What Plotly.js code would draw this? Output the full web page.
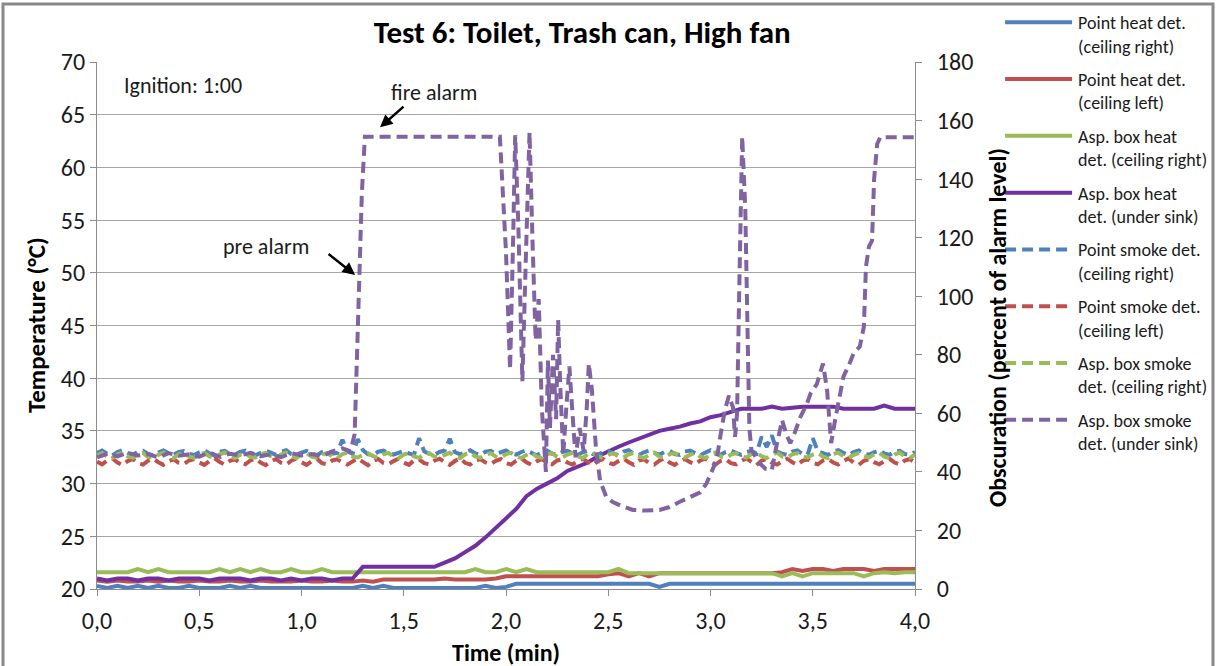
<!DOCTYPE html>
<html>
<head>
<meta charset="utf-8">
<script src="https://cdn.plot.ly/plotly-3.0.1.min.js"></script>
<style>
html,body{margin:0;padding:0;background:#fff;}
#chart{width:1218px;height:666px;}
</style>
</head>
<body>
<div id="chart"></div>
<script>
// ---- time axes (min) ----
const timeFine = [
0,0.025,0.05,0.075,0.1,0.125,0.15,0.175,0.2,0.225,0.25,0.275,0.3,0.325,0.35,0.375,0.4,0.425,0.45,0.475,
0.5,0.525,0.55,0.575,0.6,0.625,0.65,0.675,0.7,0.725,0.75,0.775,0.8,0.825,0.85,0.875,0.9,0.925,0.95,0.975,
1,1.025,1.05,1.075,1.1,1.125,1.15,1.175,1.2,1.225,1.25,1.275,1.3,1.325,1.35,1.375,1.4,1.425,1.45,1.475,
1.5,1.525,1.55,1.575,1.6,1.625,1.65,1.675,1.7,1.725,1.75,1.775,1.8,1.825,1.85,1.875,1.9,1.925,1.95,1.975,
2,2.025,2.05,2.075,2.1,2.125,2.15,2.175,2.2,2.225,2.25,2.275,2.3,2.325,2.35,2.375,2.4,2.425,2.45,2.475,
2.5,2.525,2.55,2.575,2.6,2.625,2.65,2.675,2.7,2.725,2.75,2.775,2.8,2.825,2.85,2.875,2.9,2.925,2.95,2.975,
3,3.025,3.05,3.075,3.1,3.125,3.15,3.175,3.2,3.225,3.25,3.275,3.3,3.325,3.35,3.375,3.4,3.425,3.45,3.475,
3.5,3.525,3.55,3.575,3.6,3.625,3.65,3.675,3.7,3.725,3.75,3.775,3.8,3.825,3.85,3.875,3.9,3.925,3.95,3.975,
4];
const timeCoarse = [
0,0.05,0.1,0.15,0.2,0.25,0.3,0.35,0.4,0.45,
0.5,0.55,0.6,0.65,0.7,0.75,0.8,0.85,0.9,0.95,
1,1.05,1.1,1.15,1.2,1.25,1.3,1.35,1.4,1.45,
1.5,1.55,1.6,1.65,1.7,1.75,1.8,1.85,1.9,1.95,
2,2.05,2.1,2.15,2.2,2.25,2.3,2.35,2.4,2.45,
2.5,2.55,2.6,2.65,2.7,2.75,2.8,2.85,2.9,2.95,
3,3.05,3.1,3.15,3.2,3.25,3.3,3.35,3.4,3.45,
3.5,3.55,3.6,3.65,3.7,3.75,3.8,3.85,3.9,3.95,
4];

// ---- heat detectors (°C, left axis) on timeCoarse ----
const heatPointRight = [
20.3,20.1,20.3,20.1,20.3,20.1,20.3,20.1,20.1,20.3,
20.1,20.1,20.1,20.3,20.1,20.3,20.1,20.1,20.1,20.1,
20.1,20.1,20.1,20.1,20.1,20.1,20.3,20.1,20.3,20.1,
20.1,20.1,20.1,20.1,20.1,20.1,20.1,20.1,20.3,20.1,
20.2,20.5,20.5,20.5,20.5,20.5,20.5,20.5,20.5,20.5,
20.5,20.5,20.5,20.5,20.5,20.2,20.5,20.5,20.5,20.5,
20.5,20.5,20.5,20.5,20.5,20.5,20.5,20.5,20.5,20.5,
20.5,20.5,20.5,20.5,20.5,20.5,20.5,20.5,20.5,20.5,
20.5];
const heatPointLeft = [
20.8,20.7,20.8,20.7,20.7,20.8,20.7,20.8,20.7,20.7,
20.8,20.7,20.7,20.8,20.7,20.7,20.8,20.7,20.7,20.7,
20.8,20.7,20.7,20.8,20.7,20.7,20.8,20.7,20.9,20.9,
20.9,20.9,20.9,20.9,21.0,20.9,20.9,20.9,20.9,21.0,
21.2,21.2,21.2,21.2,21.2,21.2,21.2,21.2,21.2,21.2,
21.4,21.5,21.2,21.5,21.2,21.5,21.5,21.5,21.5,21.5,
21.5,21.5,21.5,21.5,21.5,21.5,21.5,21.6,21.9,21.7,
21.9,21.9,21.7,21.9,21.9,21.9,21.7,21.9,21.9,21.9,
21.9];
const heatAspRight = [
21.6,21.6,21.6,21.6,21.9,21.6,21.9,21.6,21.6,21.6,
21.6,21.6,21.9,21.6,21.9,21.6,21.9,21.6,21.6,21.9,
21.6,21.6,21.9,21.6,21.6,21.6,21.6,21.6,21.6,21.6,
21.6,21.6,21.6,21.6,21.6,21.6,21.6,21.9,21.6,21.6,
21.9,21.6,21.9,21.6,21.6,21.6,21.6,21.6,21.6,21.6,
21.6,21.9,21.5,21.5,21.5,21.5,21.5,21.5,21.5,21.5,
21.5,21.5,21.5,21.5,21.5,21.5,21.5,21.2,21.5,21.2,
21.5,21.5,21.5,21.5,21.5,21.2,21.5,21.6,21.5,21.6,
21.6];
const heatAspSink = [
21.0,20.8,21.0,21.0,20.8,21.0,21.0,20.8,21.0,21.0,
21.0,20.8,21.0,21.0,21.0,20.8,21.0,21.0,20.8,21.0,
20.8,21.0,21.0,20.8,21.0,21.0,22.1,22.1,22.1,22.1,
22.1,22.1,22.1,22.1,22.5,22.9,23.5,24.1,24.9,25.8,
26.7,27.6,28.8,29.5,30.0,30.5,31.2,31.6,32.0,32.6,
33.1,33.5,33.9,34.3,34.6,35.0,35.2,35.4,35.7,35.9,
36.3,36.5,36.8,37.1,37.1,37.1,37.3,37.1,37.2,37.3,
37.3,37.3,37.3,37.1,37.1,37.1,37.1,37.4,37.1,37.1,
37.1];

// ---- smoke detectors (% of alarm level, right axis) on timeFine ----
const smokePointRight = [
46.5,47.3,46.2,45.6,46.8,47.4,46.5,45.8,46.9,47.2,46.1,45.7,46.6,47.3,46.4,45.9,46.8,47.1,46.2,45.8,
46.7,47.4,46.3,45.6,46.9,47.2,46.0,45.9,46.8,47.3,46.4,45.7,46.5,47.2,46.6,45.8,46.9,47.4,46.1,45.9,
46.6,47.2,46.3,45.7,46.8,47.3,46.2,46.5,51.0,47.0,46.1,51.2,47.5,46.0,45.8,46.9,47.3,46.4,45.9,46.7,
47.2,46.3,45.8,51.5,47.0,46.2,45.9,46.8,47.3,51.3,46.8,46.0,46.7,47.4,46.3,45.8,46.9,47.2,46.1,46.6,
47.3,46.2,45.9,46.8,47.4,46.5,45.7,46.6,47.3,46.2,45.9,46.8,47.2,46.4,45.8,46.7,47.3,46.1,45.9,46.8,
47.2,46.3,45.7,46.9,47.4,46.2,45.8,46.7,47.3,46.5,45.9,46.8,47.2,46.1,45.8,46.9,47.3,46.4,45.7,46.6,
47.4,46.2,45.9,46.8,47.3,46.5,45.8,46.7,47.2,46.3,52.0,48.5,52.5,47.0,46.2,45.8,46.9,47.3,46.1,45.9,
51.5,47.0,46.3,45.8,46.9,47.4,46.5,45.7,46.8,47.3,46.2,45.9,46.7,47.4,46.3,45.8,46.9,47.2,46.1,45.9,
46.8];
const smokePointLeft = [
43.5,42.6,43.9,44.6,43.2,42.3,43.7,44.4,43.0,42.5,43.8,44.5,43.3,42.4,43.6,44.3,43.1,42.7,43.9,44.4,
43.2,42.4,43.7,44.6,43.4,42.5,43.8,44.3,43.0,42.6,43.9,44.5,43.2,42.3,43.6,44.4,43.1,42.5,43.8,44.6,
43.3,42.4,43.7,44.5,43.0,42.6,43.9,44.3,43.2,42.5,43.6,44.6,43.4,42.3,43.8,44.4,43.1,42.6,43.7,44.5,
43.2,42.4,43.9,44.3,43.0,42.6,43.8,44.5,43.3,42.4,43.7,44.6,43.1,42.5,43.9,44.3,43.2,42.6,43.8,44.4,
43.0,42.5,43.8,44.6,43.3,42.4,43.6,44.4,43.1,42.6,43.9,44.3,43.2,42.5,43.7,44.5,43.4,42.3,43.8,44.4,
43.1,42.6,43.7,44.5,43.3,42.4,43.9,44.3,43.0,42.5,43.8,44.6,43.2,42.4,43.6,44.4,43.3,42.6,43.9,44.5,
43.2,42.5,43.8,44.3,43.0,42.6,43.7,44.6,43.4,42.3,43.9,44.4,43.1,42.5,43.6,44.5,43.3,42.4,43.8,44.3,
43.0,42.6,43.9,44.4,43.2,42.5,43.7,44.6,43.1,42.4,43.8,44.3,43.3,42.6,43.6,44.5,43.2,42.5,43.9,44.4,
43.2];
const smokeAspRight = [
45.6,46.4,45.2,44.7,45.9,46.6,45.3,44.8,46.0,46.5,45.1,44.9,45.8,46.6,45.4,44.7,46.1,46.4,45.2,44.8,
45.9,46.5,45.3,44.8,46.0,46.6,45.2,44.7,45.8,46.4,45.1,44.9,46.1,46.5,45.4,44.8,45.9,46.6,45.3,44.7,
46.0,46.4,45.2,44.8,45.9,46.5,45.3,44.7,46.1,46.6,45.2,44.9,45.8,46.4,45.4,44.8,46.0,46.5,45.1,44.7,
45.9,46.6,45.3,44.8,46.1,46.4,45.2,44.9,45.8,46.5,45.4,44.7,46.0,46.6,45.3,44.8,45.9,46.4,45.2,44.9,
46.1,46.5,45.3,44.7,45.8,46.6,45.2,44.8,46.0,46.4,45.1,44.9,45.9,46.5,45.4,44.7,46.1,46.6,45.3,44.8,
45.8,46.4,45.2,44.9,46.0,46.5,45.3,44.7,45.9,46.6,45.1,44.8,46.1,46.4,45.4,44.9,45.8,46.5,45.2,44.7,
46.0,46.6,45.3,44.8,45.9,46.4,45.2,44.9,46.1,46.5,45.4,44.7,45.8,46.6,45.3,44.8,46.0,46.4,45.1,44.9,
45.9,46.5,45.2,44.7,46.1,46.6,45.3,44.8,45.8,46.4,45.4,44.9,46.0,46.5,45.2,44.7,45.9,46.6,45.3,44.8,
45.9];

// ---- aspirating box smoke det. under sink (own time base) ----
const timeSmokeSink = [
0,0.05,0.1,0.15,0.2,0.25,0.3,0.35,0.4,0.45,0.5,0.55,0.6,0.65,0.7,0.75,0.8,0.85,0.9,0.95,1,1.05,1.1,1.15,
1.2,1.24,1.26,1.27,1.285,1.295,1.31,1.5,1.7,1.9,1.97,
2.0,2.02,2.035,2.045,2.06,2.08,2.1,2.115,2.13,2.145,2.16,2.175,2.195,2.205,2.215,2.23,2.245,2.255,2.265,2.28,
2.295,2.31,2.325,2.34,2.36,2.38,2.395,2.405,2.42,2.44,2.46,2.49,2.52,2.56,2.62,2.68,2.75,2.8,2.85,2.9,2.95,
2.98,3.0,3.03,3.05,3.07,3.09,3.11,3.12,3.13,3.14,3.155,3.17,3.18,3.19,3.2,3.22,3.24,3.27,3.3,3.32,3.35,3.37,
3.39,3.41,3.44,3.47,3.49,3.52,3.55,3.57,3.59,3.61,3.62,3.65,3.68,3.7,3.73,3.75,3.76,3.775,3.79,3.8,3.815,
3.83,3.9,4.0];
const smokeAspSink = [
45.0,46.2,45.3,46.5,45.6,46.1,44.9,46.4,45.5,46.0,45.2,46.6,45.1,46.2,45.6,46.5,45.4,46.0,45.0,46.4,45.6,46.1,45.3,47.0,
48.0,47.0,53,75,107,135,154.5,154.5,154.5,154.5,154.5,
115,75,120,155,125,71,120,156,118,85,99,62,40,78,55,80,58,92,70,46,
62,76,60,45,55,47,62,77,68,48,37,31.5,29.8,28.5,27,26.8,27,28,29.8,31.5,33,
36,39,44,53,61,66,62,52,60,100,154.5,130,90,55,47.5,45,43,41,40.6,48,57.7,53,
49.8,53,58.8,63,66.9,70,77,68,49.8,58,62,72.5,77,80.5,82.8,89.6,110,117,119,140,152,
154.3,154.3,154.3];

const legendNames = [
"Point heat det.<br>(ceiling right)",
"Point heat det.<br>(ceiling left)",
"Asp. box heat<br>det. (ceiling right)",
"Asp. box heat<br>det. (under sink)",
"Point smoke det.<br>(ceiling right)",
"Point smoke det.<br>(ceiling left)",
"Asp. box smoke<br>det. (ceiling right)",
"Asp. box smoke<br>det. (under sink)"
];

const BLUE='#4f81bd', RED='#c0504d', GREEN='#9bbb59', PURPLE='#7030a0', PURPLE2='#8064a2';
const DASH='11px,6px';

function solid(x,y,name,color,g){return {x:x,y:y,name:name,type:'scatter',mode:'lines',legendgroup:g,
  line:{color:color,width:4},yaxis:'y',hoverinfo:'skip'};}
function dashed(x,y,name,color,g){return {x:x,y:y,name:name,type:'scatter',mode:'lines',legendgroup:g,
  line:{color:color,width:4,dash:DASH},yaxis:'y2',hoverinfo:'skip'};}

const data = [
  solid(timeCoarse,heatPointRight,legendNames[0],BLUE,'g1'),
  solid(timeCoarse,heatPointLeft,legendNames[1],RED,'g2'),
  solid(timeCoarse,heatAspRight,legendNames[2],GREEN,'g3'),
  solid(timeCoarse,heatAspSink,legendNames[3],PURPLE,'g4'),
  dashed(timeFine,smokePointRight,legendNames[4],BLUE,'g5'),
  dashed(timeFine,smokePointLeft,legendNames[5],RED,'g6'),
  dashed(timeFine,smokeAspRight,legendNames[6],GREEN,'g7'),
  dashed(timeSmokeSink,smokeAspSink,legendNames[7],PURPLE2,'g8')
];

const FONT = 'Carlito, "Liberation Sans", Arial, sans-serif';
const TXT = '#1a1a1a';

const layout = {
  width:1218, height:666,
  margin:{l:97, r:303, t:62, b:77, autoexpand:false},
  paper_bgcolor:'#ffffff', plot_bgcolor:'#ffffff',
  separators:', ',
  font:{family:FONT, color:TXT},
  title:{text:'<b>Test 6: Toilet, Trash can, High fan</b>', x:0.478, xref:'container', xanchor:'center',
         y:0.952, yref:'container', yanchor:'middle', font:{family:FONT, size:31, color:'#000'}},
  showlegend:true,
  legend:{x:1.104, y:1.110, xanchor:'left', yanchor:'top', valign:'top', font:{family:FONT,size:18,color:TXT},
          tracegroupgap:7, itemwidth:68, maxheight:660, bgcolor:'rgba(0,0,0,0)', traceorder:'grouped'},
  xaxis:{range:[0,4], dtick:0.5, tick0:0, tickformat:'.1f', showgrid:false, zeroline:false,
         showline:true, linecolor:'#8c8c8c', linewidth:1, ticks:'outside', ticklen:6, tickcolor:'#8c8c8c',
         ticklabelstandoff:4, tickfont:{family:FONT,size:24,color:TXT}},
  yaxis:{range:[20,70], dtick:5, tick0:20, showgrid:true, gridcolor:'#a6a6a6', gridwidth:1, zeroline:false,
         showline:true, linecolor:'#8c8c8c', linewidth:1, ticks:'outside', ticklen:6, tickcolor:'#8c8c8c',
         tickfont:{family:FONT,size:24,color:TXT}},
  yaxis2:{range:[0,180], dtick:20, tick0:0, overlaying:'y', side:'right', showgrid:false, zeroline:false,
         showline:true, linecolor:'#8c8c8c', linewidth:1, ticks:'outside', ticklen:6, tickcolor:'#8c8c8c',
         ticklabelstandoff:10, tickfont:{family:FONT,size:24,color:TXT}},
  shapes:[
    {type:'rect', xref:'paper', yref:'paper', x0:-0.1149, x1:1.3643, y0:1.110, y1:-0.25,
     line:{color:'#898989', width:3}, fillcolor:'rgba(0,0,0,0)', layer:'below'}
  ],
  annotations:[
    {text:'<b>Temperature (°C)</b>', xref:'paper', yref:'paper', x:-0.0733, y:0.501, textangle:-90,
     showarrow:false, xanchor:'center', yanchor:'middle', font:{family:FONT,size:25,color:'#000'}},
    {text:'<b>Obscuration (percent of alarm level)</b>', xref:'paper', yref:'paper', x:1.1002, y:0.497, textangle:-90,
     showarrow:false, xanchor:'center', yanchor:'middle', font:{family:FONT,size:24,color:'#000'}},
    {text:'<b>Time (min)</b>', xref:'paper', yref:'paper', x:0.5, y:-0.1214,
     showarrow:false, xanchor:'center', yanchor:'middle', font:{family:FONT,size:24,color:'#000'}},
    {text:'Ignition: 1:00', xref:'x', yref:'y', x:0.12, y:67.8, showarrow:false, xanchor:'left', yanchor:'middle',
     font:{family:FONT,size:22,color:TXT}},
    {text:'fire alarm', xref:'x', yref:'y', x:1.65, y:67.06, showarrow:false, xanchor:'center', yanchor:'middle',
     font:{family:FONT,size:22,color:TXT}},
    {text:'pre alarm', xref:'x', yref:'y', x:0.826, y:52.45, showarrow:false, xanchor:'center', yanchor:'middle',
     font:{family:FONT,size:22,color:TXT}},
    {text:'', xref:'x', yref:'y', x:1.384, y:63.8, ax:25, ay:-22, showarrow:true, arrowhead:2, arrowsize:1,
     arrowwidth:2.5, arrowcolor:'#000'},
    {text:'', xref:'x', yref:'y', x:1.262, y:49.8, ax:-28, ay:-22, showarrow:true, arrowhead:2, arrowsize:1,
     arrowwidth:2.5, arrowcolor:'#000'}
  ]
};

Plotly.newPlot('chart', data, layout, {staticPlot:true, displayModeBar:false}).then(function(gd){
  // lengthen the legend line samples to match the reference's longer keys
  gd.querySelectorAll('.legend .legendlines path').forEach(function(p){ p.setAttribute('d','M5,0h67'); });
});
</script>
</body>
</html>
